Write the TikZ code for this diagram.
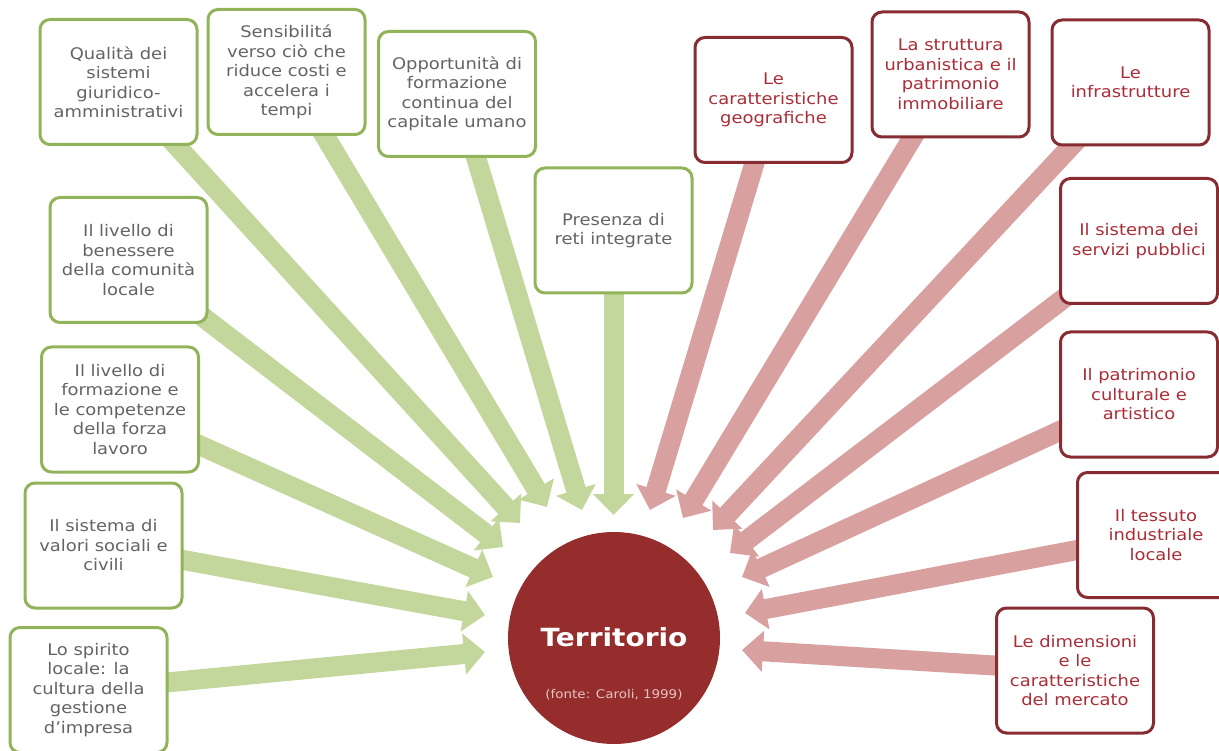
\documentclass[tikz,border=0pt]{standalone}
\usepackage{fontspec}
\setmainfont[FakeStretch=1.12]{DejaVu Sans}
\usetikzlibrary{arrows.meta}
\definecolor{gborder}{RGB}{145,180,90}
\definecolor{gtext}{RGB}{100,100,100}
\definecolor{garrowc}{RGB}{195,214,155}
\definecolor{rborder}{RGB}{135,45,50}
\definecolor{rtext}{RGB}{170,45,55}
\definecolor{rarrowc}{RGB}{217,160,160}
\definecolor{circ}{RGB}{150,45,45}
\definecolor{fonte}{RGB}{230,195,195}
\pgfdeclarelayer{bg}
\pgfsetlayers{bg,main}
\begin{document}
\begin{tikzpicture}[x=1pt,y=-1pt,
  box/.style={rectangle, rounded corners=10pt, line width=3pt, fill=white,
    minimum width=157pt, minimum height=125pt, align=center, inner sep=2pt,
    font=\fontsize{16}{19.5}\selectfont},
  gbox/.style={box, draw=gborder, text=gtext},
  rbox/.style={box, draw=rborder, text=rtext},
  garrow/.style={draw=garrowc, line width=20pt, -{Triangle[width=40pt,length=21pt]}},
  rarrow/.style={draw=rarrowc, line width=20pt, -{Triangle[width=40pt,length=21pt]}}
]
\useasboundingbox (0,0) rectangle (1219,751);
\begin{scope}
\clip (0,0) rectangle (1219,751);
% green boxes
\node[gbox] (g1) at (118.5,82) {Qualità dei\\sistemi\\giuridico-\\amministrativi};
\node[gbox] (g2) at (286.5,72) {Sensibilitá\\verso ciò che\\riduce costi e\\accelera i\\tempi};
\node[gbox] (g3) at (457,94) {Opportunità di\\formazione\\continua del\\capitale umano};
\node[gbox] (g4) at (613.5,230.5) {Presenza di\\reti integrate};
\node[gbox] (g5) at (128.5,260) {Il livello di\\benessere\\della comunità\\locale};
\node[gbox] (g6) at (120,409.5) {Il livello di\\formazione e\\le competenze\\della forza\\lavoro};
\node[gbox] (g7) at (103.5,545.5) {Il sistema di\\valori sociali e\\civili};
\node[gbox] (g8) at (88.5,690) {Lo spirito\\locale: la\\cultura della\\gestione\\d'impresa};
% red boxes
\node[rbox] (r1) at (773.5,100) {Le\\caratteristiche\\geografiche};
\node[rbox] (r2) at (950.5,74.5) {La struttura\\urbanistica e il\\patrimonio\\immobiliare};
\node[rbox] (r3) at (1130.5,82.5) {Le\\infrastrutture};
\node[rbox] (r4) at (1139,241) {Il sistema dei\\servizi pubblici};
\node[rbox] (r5) at (1139,394.5) {Il patrimonio\\culturale e\\artistico};
\node[rbox] (r6) at (1156,535) {Il tessuto\\industriale\\locale};
\node[rbox] (r7) at (1075,670.5) {Le dimensioni\\e le\\caratteristiche\\del mercato};
% centre
\node[circle, fill=circ, minimum size=212pt, inner sep=0pt] (terr) at (614,638) {};
\node[text=white, font=\bfseries\fontsize{25}{30}\selectfont] (terrlabel) at (614,637) {Territorio};
\node[text=fonte, font=\fontsize{12}{14}\selectfont] (src) at (614,695) {(fonte: Caroli, 1999)};
% arrow tips
\coordinate (tg1) at (520,523);
\coordinate (tg2) at (547,507);
\coordinate (tg3) at (582,510);
\coordinate (tg4) at (613.5,515);
\coordinate (tg5) at (503,547);
\coordinate (tg6) at (493,577);
\coordinate (tg7) at (485,615);
\coordinate (tg8) at (485,652);
\coordinate (tr1) at (650,510);
\coordinate (tr2) at (683,518);
\coordinate (tr3) at (713,530);
\coordinate (tr4) at (730,553);
\coordinate (tr5) at (742,577);
\coordinate (tr6) at (745,613);
\coordinate (tr7) at (742,650);
\begin{pgfonlayer}{bg}
\foreach \n in {1,...,8} {\draw[garrow] (g\n.center) -- (tg\n);}
\foreach \n in {1,...,7} {\draw[rarrow] (r\n.center) -- (tr\n);}
\end{pgfonlayer}
\end{scope}
\end{tikzpicture}
\end{document}
